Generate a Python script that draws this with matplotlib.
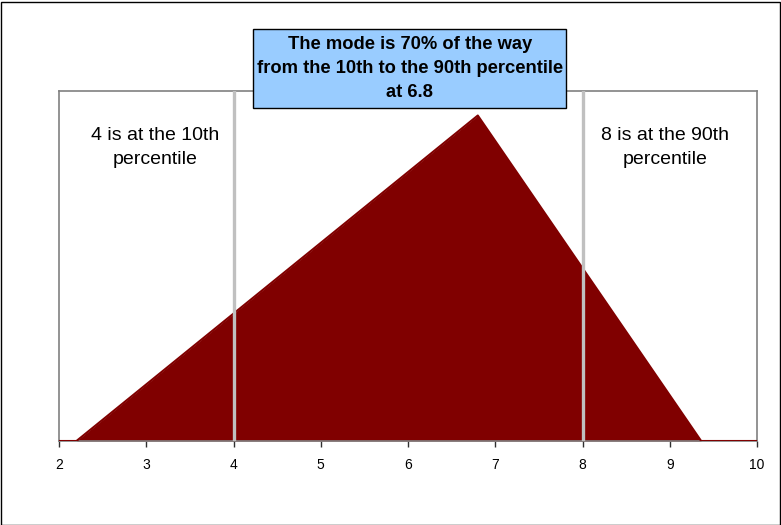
import matplotlib.pyplot as plt
from matplotlib.patches import Rectangle

plt.rcParams['font.family'] = ['Liberation Sans', 'DejaVu Sans']

# triangular distribution
x_pts = [2.0, 2.2, 6.8, 9.36, 10.0]
density = [0.0, 0.0, 0.279, 0.0, 0.0]
pct_lines = [4, 8]
x_ticks = [2, 3, 4, 5, 6, 7, 8, 9, 10]

fig = plt.figure(figsize=(7.81, 5.25), dpi=100)
ax = fig.add_axes([59 / 781, 1 - 441 / 525, 698 / 781, 350 / 525])

ax.fill_between(x_pts, density, 0, color='#800000', lw=0, zorder=2)
ax.plot(x_pts, density, color='#800000', lw=1.5, zorder=3)

for xv in pct_lines:
    ax.axvline(xv, color='#c0c0c0', lw=2.4, zorder=4)

ax.set_xlim(2, 10)
ax.set_ylim(0, 0.3)
ax.set_xticks(x_ticks)
ax.set_xticklabels([str(t) for t in x_ticks], fontsize=10)
ax.set_yticks([])
ax.tick_params(axis='x', direction='out', length=4, width=1, color='#303030', pad=8.5)
for s in ['left', 'top', 'right', 'bottom']:
    ax.spines[s].set_color('#808080')
    ax.spines[s].set_linewidth(1.2)

ax.text(3.1, 0.2516, '4 is at the 10th\npercentile', ha='center', va='center',
        fontsize=14, linespacing=1.5)
ax.text(8.95, 0.2516, '8 is at the 90th\npercentile', ha='center', va='center',
        fontsize=14, linespacing=1.5)

# title box
fig.patches.append(Rectangle((253 / 781, 1 - 108 / 525), 313 / 781, 79 / 525,
                             transform=fig.transFigure, facecolor='#99ccff',
                             edgecolor='black', lw=1, zorder=5))
fig.text(410 / 781, 1 - 68.5 / 525,
         'The mode is 70% of the way\nfrom the 10th to the 90th percentile\nat 6.8',
         ha='center', va='center', fontsize=13.2, fontweight='bold',
         linespacing=1.52, zorder=6)

# outer border
fig.patches.append(Rectangle((0.5 / 781, 0.5 / 525), 779 / 781, 523 / 525,
                             transform=fig.transFigure, fill=False,
                             edgecolor='black', lw=1))

fig.savefig('out.png', dpi=100)
